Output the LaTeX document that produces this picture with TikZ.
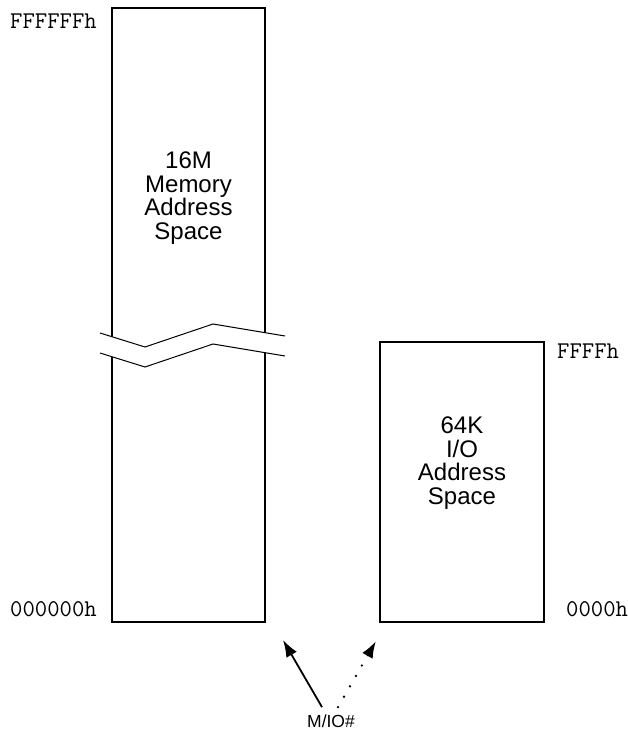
\documentclass[tikz,border=0pt]{standalone}
\usepackage{fontspec}
\setmainfont{Liberation Sans}
\usetikzlibrary{arrows.meta}
\begin{document}
\begin{tikzpicture}[x=1pt,y=-1pt,
  spacebox/.style={draw,line width=1.4pt,inner sep=0pt},
  spacelab/.style={font=\fontsize{24}{23.5}\selectfont,align=center},
  addrlab/.style={font=\ttfamily\fontsize{24}{24}\selectfont},
  breakline/.style={line width=1pt},
  selarrow/.style={line width=1.8pt,-{Latex[length=17pt,width=12pt]}}]
\useasboundingbox (0,0) rectangle (627,731);
% address spaces
\node[spacebox,minimum width=153pt,minimum height=614pt] (mem) at (188.5,315) {};
\node[spacebox,minimum width=164pt,minimum height=280pt] (io) at (462,482) {};
\node[spacelab] (memlab) at (188.5,198) {16M\\Memory\\Address\\Space};
\node[spacelab] (iolab) at (462,463) {64K\\I/O\\Address\\Space};
% break in the memory column
\fill[white] (100,333) -- (145,347) -- (213,324) -- (285,336)
  -- (285,356) -- (213,344) -- (145,367) -- (100,353) -- cycle;
\draw[breakline] (100,333) -- (145,347) -- (213,324) -- (285,336);
\draw[breakline] (100,353) -- (145,367) -- (213,344) -- (285,356);
% address labels
\node[addrlab,anchor=east,yshift=-14pt,xshift=-11pt] (memtop) at (mem.north west) {FFFFFFh};
\node[addrlab,anchor=east,yshift=14pt,xshift=-11pt] (membot) at (mem.south west) {000000h};
\node[addrlab,anchor=west,yshift=-10pt,xshift=9pt] (iotop) at (io.north east) {FFFFh};
\node[addrlab,anchor=west,yshift=14pt,xshift=18pt] (iobot) at (io.south east) {0000h};
% M/IO# select
\node[font=\fontsize{17.5}{17.5}\selectfont,inner sep=0pt,anchor=base] (mio) at (331,727) {M/IO\#};
\coordinate (memsel) at (283,640);
\coordinate (iosel) at (376,641);
\draw[selarrow] ([xshift=-9pt,yshift=7pt]mio.north) -- (memsel);
\draw[selarrow,line width=2.6pt,line cap=round,dash pattern=on 0pt off 12pt] ([xshift=7pt,yshift=7pt]mio.north) -- (iosel);
\end{tikzpicture}
\end{document}
